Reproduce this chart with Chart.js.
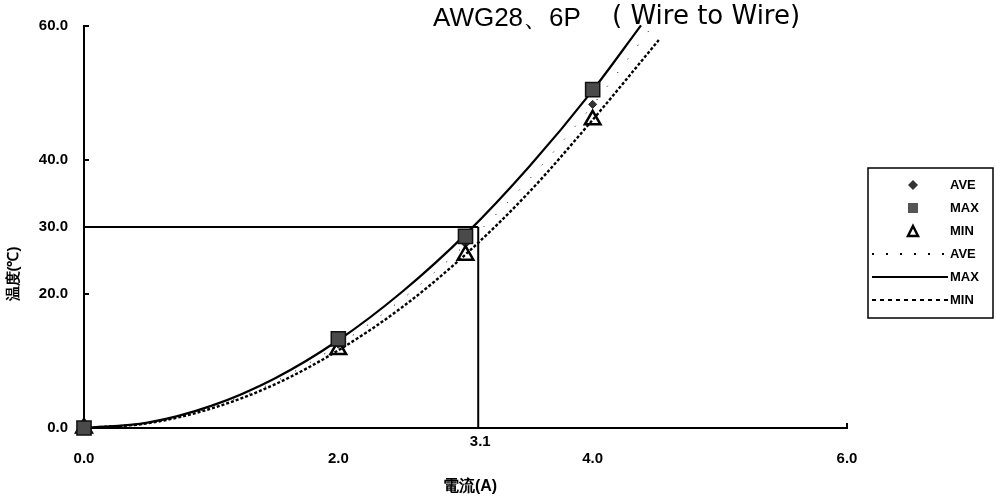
<!DOCTYPE html>
<html>
<head>
<meta charset="utf-8">
<script src="https://cdn.jsdelivr.net/npm/chart.js@4.4.1/dist/chart.umd.min.js"></script>
<style>
  html, body { margin: 0; padding: 0; background: #fff; }
  #wrap { width: 996px; height: 503px; position: relative; }
</style>
</head>
<body>
<div id="wrap"><canvas id="c" width="996" height="503"></canvas></div>
<script>
// Measured temperature rise per current
const currents = [0, 2.0, 3.0, 4.0];
const aveTemp = [0, 12.5, 27.5, 48.3];
const maxTemp = [0, 13.3, 28.6, 50.5];
const minTemp = [0, 11.7, 25.8, 46.0];

// Trend curves
const maxFitX = [0, 0.5, 1.0, 1.5, 2.0, 2.5, 3.0, 3.5, 4.0, 4.38];
const maxFitY = [0, 0.8, 3.3, 7.4, 13.1, 20.3, 28.9, 39.0, 50.4, 60.1];
const aveFitX = [0, 0.5, 1.0, 1.5, 2.0, 2.5, 3.0, 3.5, 4.0, 4.45];
const aveFitY = [0, 0.75, 3.1, 6.9, 12.4, 19.2, 27.4, 37.1, 48.2, 59.5];
const minFitX = [0, 0.5, 1.0, 1.5, 2.0, 2.5, 3.0, 3.5, 4.0, 4.52];
const minFitY = [0, 0.7, 2.9, 6.5, 11.6, 18.0, 25.9, 35.2, 46.0, 57.9];

// Rated point
const ratedCurrent = 3.1;
const ratedTemp = 30;

// Axis ticks
const xTicks = [0, 2, 4, 6];
const yTicks = [0, 20, 30, 40, 60];

const titleMain = 'AWG28、6P';
const titleSub = '( Wire to Wire)';
const xTitle = '電流(A)';
const yTitle = '温度(℃)';
const legendLabels = ['AVE', 'MAX', 'MIN', 'AVE', 'MAX', 'MIN'];

const pts = (xs, ys) => xs.map((x, i) => ({ x: x, y: ys[i] }));

const FONT = '"Liberation Sans", Arial, sans-serif';

const decorations = {
  id: 'decorations',
  afterDraw(chart) {
    const ctx = chart.ctx;
    const xs = chart.scales.x, ys = chart.scales.y;
    ctx.save();
    ctx.fillStyle = '#000';
    ctx.strokeStyle = '#000';

    // title
    ctx.textBaseline = 'middle';
    ctx.textAlign = 'left';
    ctx.font = '26px ' + FONT;
    ctx.fillText(titleMain, 433, 19);
    ctx.font = '26px "DejaVu Sans", sans-serif';
    ctx.fillText(titleSub, 612, 17);

    // axis titles
    ctx.font = 'bold 16px ' + FONT;
    ctx.textAlign = 'center';
    ctx.fillText(xTitle, 470, 487);
    ctx.save();
    ctx.translate(14, 274);
    ctx.rotate(-Math.PI / 2);
    ctx.font = 'bold 15px ' + FONT;
    ctx.fillText(yTitle, 0, 0);
    ctx.restore();

    // rated current label
    ctx.font = 'bold 15px ' + FONT;
    ctx.fillText(String(ratedCurrent.toFixed(1)), xs.getPixelForValue(ratedCurrent) + 2, 442);

    // inner tick marks on the y axis
    ctx.lineWidth = 2;
    const x0 = xs.getPixelForValue(0);
    [20, 40, 60].forEach(v => {
      const py = ys.getPixelForValue(v);
      ctx.beginPath();
      ctx.moveTo(x0, py);
      ctx.lineTo(x0 + 5, py);
      ctx.stroke();
    });
    // end tick of the x axis
    const x6 = xs.getPixelForValue(6), y0 = ys.getPixelForValue(0);
    ctx.beginPath();
    ctx.moveTo(x6, y0);
    ctx.lineTo(x6, y0 - 5);
    ctx.stroke();

    // legend
    const lx = 868, ly = 168, lw = 125, lh = 150;
    ctx.lineWidth = 1.5;
    ctx.strokeRect(lx, ly, lw, lh);
    const rows = [185, 208, 231, 254, 277, 300];
    ctx.font = 'bold 13px ' + FONT;
    ctx.textAlign = 'left';
    rows.forEach((ry, i) => ctx.fillText(legendLabels[i], 950, ry));
    const mx = 913;
    // diamond
    ctx.fillStyle = '#333';
    ctx.beginPath();
    ctx.moveTo(mx, rows[0] - 5); ctx.lineTo(mx + 5, rows[0]);
    ctx.lineTo(mx, rows[0] + 5); ctx.lineTo(mx - 5, rows[0]);
    ctx.closePath(); ctx.fill();
    // square
    ctx.fillStyle = '#555';
    ctx.fillRect(mx - 5, rows[1] - 5, 10, 10);
    // triangle
    ctx.lineWidth = 2.5;
    ctx.beginPath();
    ctx.moveTo(mx, rows[2] - 5); ctx.lineTo(mx + 5, rows[2] + 5);
    ctx.lineTo(mx - 5, rows[2] + 5); ctx.closePath(); ctx.stroke();
    // lines
    ctx.lineWidth = 2;
    ctx.setLineDash([2, 12]);
    ctx.beginPath(); ctx.moveTo(872, rows[3]); ctx.lineTo(948, rows[3]); ctx.stroke();
    ctx.setLineDash([]);
    ctx.beginPath(); ctx.moveTo(872, rows[4]); ctx.lineTo(948, rows[4]); ctx.stroke();
    ctx.setLineDash([4, 4]);
    ctx.beginPath(); ctx.moveTo(872, rows[5]); ctx.lineTo(948, rows[5]); ctx.stroke();
    ctx.restore();
  }
};

const curve = (label, data, dash, width, order) => ({
  label, data, showLine: true, pointRadius: 0, borderColor: '#000',
  borderWidth: width, borderDash: dash, cubicInterpolationMode: 'monotone',
  fill: false, order, clip: false
});

new Chart(document.getElementById('c'), {
  type: 'scatter',
  data: {
    datasets: [
      curve('AVE', pts(aveFitX, aveFitY), [1, 16], 1, 5),
      curve('MAX', pts(maxFitX, maxFitY), [], 2.2, 5),
      curve('MIN', pts(minFitX, minFitY), [3, 2], 2.4, 5),
      {
        label: 'rated-h', data: [{ x: 0, y: ratedTemp }, { x: ratedCurrent, y: ratedTemp }],
        showLine: true, pointRadius: 0, borderColor: '#000', borderWidth: 2, order: 6
      },
      {
        label: 'rated-v', data: [{ x: ratedCurrent, y: 0 }, { x: ratedCurrent, y: ratedTemp }],
        showLine: true, pointRadius: 0, borderColor: '#000', borderWidth: 2, order: 6
      },
      {
        label: 'AVE', data: pts(currents, aveTemp), pointStyle: 'rectRot', pointRadius: 4,
        backgroundColor: '#333', borderColor: '#222', borderWidth: 1, order: 3, clip: false
      },
      {
        label: 'MIN', data: pts(currents, minTemp), pointStyle: 'triangle', pointRadius: 9,
        backgroundColor: 'rgba(255,255,255,0)', borderColor: '#000', borderWidth: 2.5, order: 2, clip: false
      },
      {
        label: 'MAX', data: pts(currents, maxTemp), pointStyle: 'rect', pointRadius: 10,
        backgroundColor: '#4a4a4a', borderColor: '#111', borderWidth: 1.5, order: 1, clip: false
      }
    ]
  },
  options: {
    responsive: false,
    animation: false,
    events: [],
    layout: { padding: { left: 0, right: 149, top: 26, bottom: 0 } },
    plugins: { legend: { display: false }, tooltip: { enabled: false }, title: { display: false } },
    scales: {
      x: {
        type: 'linear', min: 0, max: 6,
        afterBuildTicks: s => { s.ticks = xTicks.map(v => ({ value: v })); },
        afterFit: s => { s.height = 75; },
        grid: { drawOnChartArea: false, drawTicks: false },
        border: { display: true, color: '#000', width: 2 },
        ticks: {
          padding: 22, color: '#000', maxRotation: 0,
          font: { family: FONT, size: 15, weight: 'bold' },
          callback: v => Number(v).toFixed(1)
        }
      },
      y: {
        type: 'linear', min: 0, max: 60,
        afterBuildTicks: s => { s.ticks = yTicks.map(v => ({ value: v })); },
        afterFit: s => { s.width = 84; },
        grid: { drawOnChartArea: false, drawTicks: false },
        border: { display: true, color: '#000', width: 2 },
        ticks: {
          padding: 16, color: '#000',
          font: { family: FONT, size: 15, weight: 'bold' },
          callback: v => Number(v).toFixed(1)
        }
      }
    }
  },
  plugins: [decorations]
});
</script>
</body>
</html>
